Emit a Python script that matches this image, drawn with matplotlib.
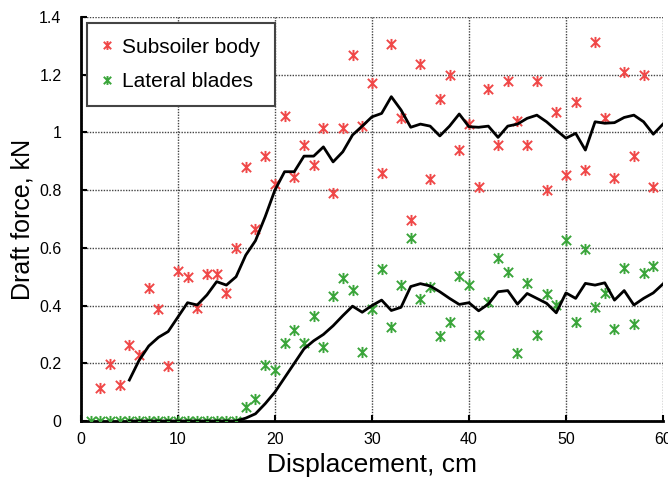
import matplotlib.pyplot as plt
import numpy as np
from matplotlib.path import Path

# measured points
body_x = list(range(2, 60))
body_y = [0.114, 0.197, 0.125, 0.263, 0.228, 0.46, 0.388, 0.19, 0.52, 0.50,
          0.39, 0.51, 0.51, 0.443, 0.60, 0.88, 0.665, 0.92, 0.82, 1.057,
          0.846, 0.956, 0.887, 1.017, 0.789, 1.017, 1.27, 1.022, 1.172, 0.858,
          1.306, 1.049, 0.696, 1.236, 0.837, 1.116, 1.199, 0.939, 1.03, 0.812,
          1.149, 0.956, 1.178, 1.04, 0.956, 1.178, 0.80, 1.072, 0.852, 1.106,
          0.87, 1.314, 1.049, 0.841, 1.21, 0.918, 1.199, 0.812]

blades_x = list(range(1, 60))
blades_y = [0, 0, 0, 0, 0, 0, 0, 0, 0, 0, 0, 0, 0, 0, 0, 0,
            0.05, 0.075, 0.194, 0.178, 0.271, 0.315, 0.271, 0.364, 0.258, 0.433,
            0.494, 0.454, 0.24, 0.387, 0.526, 0.326, 0.471, 0.633, 0.423, 0.464,
            0.294, 0.344, 0.502, 0.47, 0.298, 0.413, 0.564, 0.517, 0.237, 0.477,
            0.298, 0.44, 0.402, 0.627, 0.344, 0.595, 0.396, 0.445, 0.318, 0.529,
            0.336, 0.512, 0.537]

# trend lines
trend_x = list(range(5, 61))
body_trend = [0.142, 0.21, 0.26, 0.29, 0.31, 0.36, 0.41, 0.402, 0.437, 0.483,
              0.471, 0.50, 0.575, 0.625, 0.708, 0.80, 0.864, 0.864, 0.918, 0.918,
              0.95, 0.898, 0.933, 0.991, 1.022, 1.054, 1.066, 1.124, 1.078, 1.018,
              1.029, 1.022, 0.988, 1.022, 1.064, 1.02, 1.018, 1.022, 0.983, 1.022,
              1.029, 1.049, 1.06, 1.037, 1.008, 0.98, 0.997, 0.939, 1.037, 1.032,
              1.034, 1.052, 1.06, 1.037, 0.994, 1.029]
blades_trend = [0, 0, 0, 0, 0, 0, 0, 0, 0, 0, 0, 0,
                0.01, 0.025, 0.06, 0.10, 0.15, 0.20, 0.25, 0.278, 0.30, 0.33,
                0.365, 0.398, 0.377, 0.40, 0.419, 0.383, 0.394, 0.466, 0.476, 0.468,
                0.448, 0.425, 0.404, 0.41, 0.382, 0.405, 0.448, 0.452, 0.405, 0.442,
                0.425, 0.408, 0.375, 0.444, 0.425, 0.477, 0.471, 0.479, 0.419, 0.452,
                0.402, 0.425, 0.444, 0.475]

plt.rcParams['font.family'] = ['Liberation Sans', 'DejaVu Sans']

# excel-like star: an x with a vertical bar
star = Path([(-1, -1), (1, 1), (-1, 1), (1, -1), (0, -1.2), (0, 1.2)],
            [Path.MOVETO, Path.LINETO] * 3)

fig = plt.figure(figsize=(6.68, 4.87), dpi=100)
ax = fig.add_axes([0.121, 0.1355, 0.8715, 0.8295])

ax.plot(body_x, body_y, linestyle='none', marker=star, ms=8, mew=1.4,
        color='#f04848', label='Subsoiler body', zorder=3)
ax.plot(blades_x, blades_y, linestyle='none', marker=star, ms=8, mew=1.4,
        color='#3aa53a', label='Lateral blades', zorder=3)
ax.plot(trend_x, body_trend, color='black', lw=2, zorder=4)
ax.plot(trend_x, blades_trend, color='black', lw=2, zorder=4)

ax.set_xlim(0, 60)
ax.set_ylim(0, 1.4)
ax.set_xticks(np.arange(0, 61, 10))
ax.set_yticks(np.arange(0, 1.41, 0.2))
ax.set_yticklabels(['0', '0.2', '0.4', '0.6', '0.8', '1', '1.2', '1.4'])
ax.grid(True, color='#444444', linestyle=(0, (1, 1)), linewidth=1)
ax.set_axisbelow(True)
for side in ['top', 'right']:
    ax.spines[side].set_visible(False)
for side in ['left', 'bottom']:
    ax.spines[side].set_linewidth(2)
ax.tick_params(direction='in', length=4, width=1.5, labelsize=11.5)
ax.tick_params(axis='y', pad=14)
ax.tick_params(axis='x', pad=8)

ax.set_xlabel('Displacement, cm', fontsize=19, labelpad=4)
ax.set_ylabel('Draft force, kN', fontsize=18, labelpad=3)

leg = ax.legend(loc='upper left', bbox_to_anchor=(0.01, 0.985), borderaxespad=0,
                fontsize=15, numpoints=1, fancybox=False, framealpha=1,
                edgecolor='#444444', borderpad=0.7, labelspacing=0.75,
                handlelength=0.6, handletextpad=0.4, markerscale=0.8)
leg.get_frame().set_linewidth(1.5)

fig.savefig('out.png', dpi=100)
